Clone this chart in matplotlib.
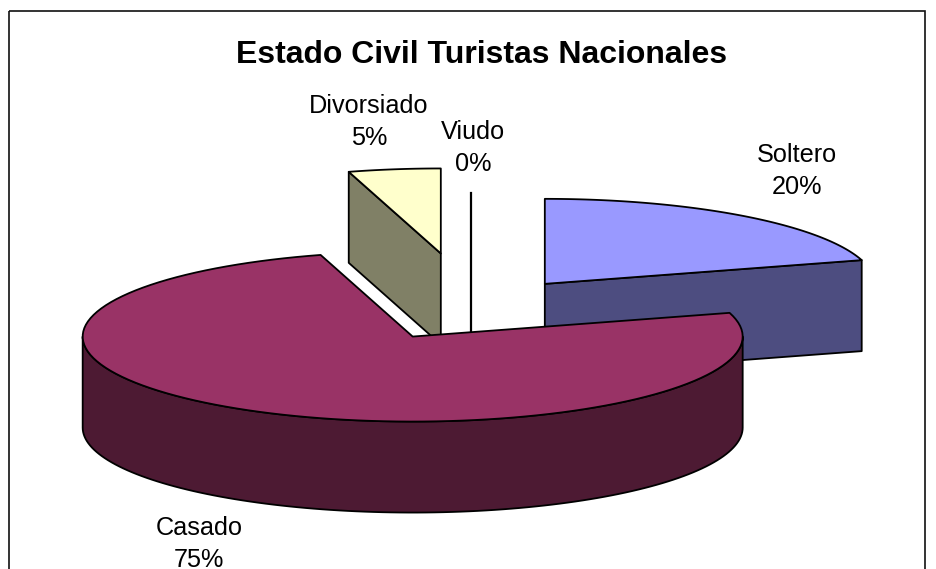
import numpy as np
import matplotlib
matplotlib.use('Agg')
import matplotlib.pyplot as plt
from matplotlib.patches import Polygon, Rectangle

plt.rcParams['font.family'] = ['Liberation Sans', 'DejaVu Sans']

categories = ['Soltero', 'Casado', 'Divorsiado', 'Viudo']
values = [20.5, 75.0, 4.5, 0.0]
percent_labels = ['20%', '75%', '5%', '0%']
explode = [0.37, 0.37, 0.66, 0.37]

top_colors = ['#9999FF', '#993366', '#FFFFCC', '#FFFFFF']
side_colors = ['#4D4D80', '#4D1A33', '#808066', '#808080']

# pie geometry, in pixels
cx, cy = 471.5, 309
rx, ry = 330, 85
depth = 91
start_angle = 90
label_pos = [(797, 171), (199, 544), (369, 122), (473, 148)]

fig = plt.figure(figsize=(9.37, 5.69), dpi=100)
ax = fig.add_axes([0, 0, 1, 1])
ax.set_xlim(0, 937)
ax.set_ylim(569, 0)
ax.axis('off')


def rim(x0, y0, a1, a2, drop=0):
    t = np.radians(np.linspace(a1, a2, 120))
    return np.column_stack([x0 + rx * np.cos(t), y0 - ry * np.sin(t) + drop])


def quad(p, color, z):
    ax.add_patch(Polygon(p, closed=True, facecolor=color, edgecolor='black', lw=1.3, joinstyle='round', zorder=z))


ax.add_patch(Rectangle((9.5, 10.5), 916, 600, fill=False, edgecolor='#111111', lw=1.2, zorder=1))

# slices go clockwise from the top
total = sum(values)
angle = start_angle
slices = []
for i in range(len(values)):
    sweep = values[i] / total * 360
    slices.append((i, angle - sweep, angle))
    angle -= sweep

# back to front: Divorsiado, Viudo, Soltero, Casado
for z, i in enumerate([2, 3, 0, 1]):
    _, a1, a2 = slices[i]
    mid = np.radians((a1 + a2) / 2)
    x0 = cx + explode[i] * rx * np.cos(mid)
    y0 = cy - explode[i] * ry * np.sin(mid)
    base = 10 + z * 5
    if values[i] == 0:
        # empty slice is only a line
        e = rim(x0, y0, a1, a1)[0]
        ax.plot([e[0], x0, x0], [e[1], y0, y0 + depth], color='black', lw=1.6, zorder=base)
        continue
    edge1 = rim(x0, y0, a1, a1)[0]
    edge2 = rim(x0, y0, a2, a2)[0]
    apex = np.array([x0, y0])
    down = np.array([0, depth])
    # cut faces
    if i == 0:
        quad([apex, edge1, edge1 + down, apex + down], side_colors[i], base)
    if i == 2:
        quad([apex, edge2, edge2 + down, apex + down], side_colors[i], base)
    # outer wall on the front half
    if i == 1:
        lo = rim(x0, y0, 180, 360, depth)
        hi = rim(x0, y0, 360, 180)
        quad(np.vstack([lo, hi]), side_colors[i], base)
    quad(np.vstack([[apex], rim(x0, y0, a1, a2)]), top_colors[i], base + 1)

ax.text(482, 55, 'Estado Civil Turistas Nacionales', fontsize=23, fontweight='bold',
        ha='center', va='center', color='black', zorder=40)
for i in range(len(categories)):
    ax.text(label_pos[i][0], label_pos[i][1], categories[i] + '\n' + percent_labels[i],
            fontsize=18.2, ha='center', va='center', linespacing=1.45, color='black', zorder=40)

fig.savefig('out.png', dpi=100)
